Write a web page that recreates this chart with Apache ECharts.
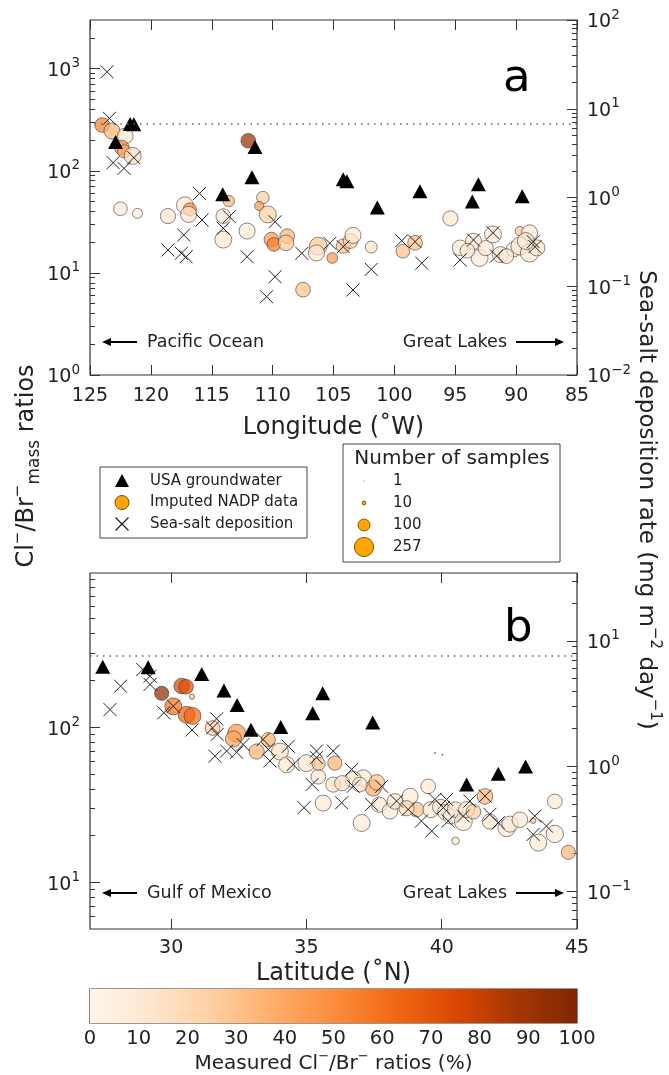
<!DOCTYPE html>
<html><head><meta charset="utf-8">
<script src="https://cdn.jsdelivr.net/npm/echarts@6/dist/echarts.min.js"></script>
<style>html,body{margin:0;padding:0;background:#fff}#c{width:669px;height:1075px}</style>
</head><body><div id="c"></div>
<script>
// ---------- DATA ----------
// Panel a: longitude (deg W)
const triA_lon = [122.9,121.7,121.4,111.45,111.7,114.1,104.2,103.9,101.4,97.9,93.1,93.6,89.5];
const triA_val = [191,287,285,171,86.5,59,82.6,79,43.7,63,73.8,50,56.3];
// circles: [lon, Cl/Br ratio, number of samples, measured %]
const circA_lon = [124.0,123.2,122.1,122.4,122.2,121.5,112.0,122.5,121.1,118.6,117.2,116.8,116.9,114.05,114.05,113.6,112.1,110.8,111.1,110.4,110.1,109.9,108.8,108.9,107.5,106.25,106.4,105.1,104.2,103.6,103.4,101.9,99.3,98.3,95.4,94.6,93.5,93.0,91.9,91.3,90.2,89.7,89.7,88.9,88.9,88.3,90.8,94.0,92.5,89.2];
const circA_val = [281,246,220,169,155,140,197,42.5,38.3,36,45.9,41.9,37.4,36,21.2,50.6,25.7,54.6,45.2,37.4,21.2,19,22.9,19.7,6.85,18.3,15.7,14,18.3,20.5,23.3,17.9,16.3,19.7,34.2,17.6,20.4,14,23.8,15.1,17,25.7,18.3,24.7,15.7,17.6,14.6,16.5,17.5,20.5];
const circA_n   = [150,180,170,150,120,200,150,130,70,160,200,120,180,150,200,90,180,110,60,200,150,130,150,170,150,220,180,80,140,150,180,100,130,150,160,170,180,200,200,180,160,60,220,180,230,180,150,150,160,200];
const circA_pct = [55,35,12,48,40,15,92,10,8,12,10,50,12,10,8,35,8,25,45,25,45,55,35,28,30,28,12,45,30,25,10,15,30,30,12,10,10,8,8,10,12,30,10,8,10,12,10,12,10,12];
// sea-salt deposition (mg m-2 day-1)
const crossA_lon = [123.6,123.4,123.1,122.2,121.4,116.0,115.8,118.6,117.3,117.5,117.1,114.05,113.55,112.1,109.8,109.8,110.5,107.6,105.3,104.2,103.4,101.9,99.4,98.3,97.75,94.6,93.5,91.9,91.6,88.6,88.45];
const crossA_dep = [26.1,7.8,2.47,2.13,2.81,1.11,0.557,0.256,0.378,0.235,0.215,0.45,0.608,0.215,0.533,0.128,0.0762,0.235,0.305,0.279,0.0908,0.155,0.326,0.318,0.182,0.198,0.332,0.401,0.219,0.318,0.279];

// Panel b: latitude (deg N)
const triB_lat = [27.47,29.15,31.13,31.95,32.44,32.95,34.05,35.23,35.6,37.45,40.92,42.09,43.1];
const triB_val = [245,243,220,172,139,96,100,123,165,107,42.6,50,55.7];
const circB_lat = [29.65,30.39,30.55,30.77,30.08,30.57,30.79,31.53,32.42,32.3,33.59,33.16,34.02,34.27,35.0,35.44,36.05,35.99,35.62,37.04,37.1,36.73,37.47,37.6,36.32,36.97,37.69,38.09,38.27,38.83,39.07,38.7,39.5,39.6,39.95,40.13,40.32,40.5,40.8,40.92,41.17,40.51,41.6,41.78,42.4,42.52,42.89,43.38,43.57,44.18,44.18,44.68,39.75,40.03,35.45];
const circB_val = [165,184,182,157,136,120,118,98.6,91.4,84,83,69.6,69.6,57.2,58.6,47.9,58.6,42.6,32.4,24.1,46.8,46,40.5,44,43.5,42.6,31.6,28.7,33.2,35.8,29.4,30,41.5,29.4,30.5,28.3,26.5,29.4,24.6,29.4,28.5,18.5,35.8,24.6,22.4,23.7,25.3,24.9,18,33.2,20.5,15.6,68,66.4,58];
const circB_n   = [140,170,150,20,200,200,200,150,220,180,140,160,200,180,200,150,140,160,180,200,200,180,180,170,160,150,160,170,170,180,150,160,150,180,170,160,150,170,220,180,150,40,170,160,210,180,170,20,200,150,210,140,1,1,120];
const circB_pct = [95,75,72,30,60,65,62,25,45,42,38,35,15,12,12,8,35,15,10,8,10,12,38,30,15,10,10,10,12,10,30,18,10,10,12,10,8,10,8,10,25,10,35,12,8,10,10,30,10,10,8,35,50,50,30];
const crossB_lat = [27.74,28.13,28.95,29.22,29.22,29.73,30.08,30.77,31.68,31.53,31.62,32.05,32.42,32.66,31.7,33.4,33.59,33.65,34.33,34.51,35.37,35.99,35.37,35.21,34.91,36.3,36.67,36.73,37.41,37.78,38.33,38.76,39.25,39.63,39.75,40.06,40.18,40.24,40.8,41.04,41.6,41.78,42.09,43.44,43.38,43.87];
const crossB_dep = [2.83,4.35,5.91,5.23,4.49,2.67,3.01,1.94,2.39,2.02,1.2,1.32,1.29,1.49,1.79,1.63,1.36,1.1,1.44,1.03,1.32,1.32,1.17,0.714,0.466,0.51,0.94,0.69,0.494,0.69,0.526,0.451,0.364,0.303,0.542,0.466,0.542,0.364,0.399,0.526,0.576,0.412,0.353,0.399,0.285,0.332];

const seawaterRatio = 288;
const latTicks = [30,35,40,45];
const cbTicks = [0,10,20,30,40,50,60,70,80,90,100];
const legendNames = ['USA groundwater','Imputed NADP data','Sea-salt deposition'];
const legendCounts = [1,10,100,257];
const orangesCmap = ['#fff5eb','#fee6ce','#fdd0a2','#fdae6b','#fd8d3c','#f16913','#d94801','#a63603','#7f2704'];

// ---------- HELPERS ----------
const FONT = 'DejaVu Sans';
const INK = '#222';
function zip2(a,b){return a.map((v,i)=>[v,b[i]]);}
function zip4(a,b,c,d){return a.map((v,i)=>[v,b[i],c[i],d[i]]);}
function sizeOf(n){return 1.2*Math.sqrt(n);}
function decades(lo,hi){const r=[];for(let e=lo;e<=hi;e++)r.push(Math.pow(10,e));return r;}
function minors(lo,hi,min,max){const r=[];for(let e=lo;e<=hi;e++){for(let k=2;k<=9;k++){const v=k*Math.pow(10,e);if(v>min&&v<max)r.push(+v.toPrecision(3));}}return r;}
function powLabel(v){const e=Math.round(Math.log10(v));return '{b|10}{s|'+(e<0?'\u2212'+(-e):e)+'}';}
const powRich = {b:{fontSize:19,fontFamily:FONT,color:INK,lineHeight:24,verticalAlign:'bottom'},s:{fontSize:13.5,fontFamily:FONT,color:INK,lineHeight:24,verticalAlign:'top'}};

const GA = {left:90, top:20, width:487, height:355};
const GB = {left:90, top:573, width:487, height:356};
const GC = {left:90, top:989, width:487, height:34};

function logAxis(grid, pos, min, max, majors, minorVals){
  return [
    {type:'log', gridIndex:grid, position:pos, min:min, max:max, offset:0,
     axisLine:{show:false}, splitLine:{show:false}, minorTick:{show:false},
     axisTick:{show:true, inside:true, length:10, customValues:majors, lineStyle:{color:'#333',width:1}},
     axisLabel:{show:true, customValues:majors, margin:10, formatter:powLabel, rich:powRich}},
    {type:'log', gridIndex:grid, position:pos, min:min, max:max, offset:0,
     axisLine:{show:false}, splitLine:{show:false}, axisLabel:{show:false},
     axisTick:{show:true, inside:true, length:5, customValues:minorVals, lineStyle:{color:'#333',width:1}}}
  ];
}

const circleStyle = {opacity:0.72, borderColor:'#333', borderWidth:0.8};
const crossSymbol = 'path://M0,0L10,10M10,0L0,10';
const triSymbol = 'path://M5,0L10,9L0,9Z';
const crossStyle = {color:'rgba(0,0,0,0)', borderColor:INK, borderWidth:1, opacity:1};
const triStyle = {color:'#000', opacity:1};
const dotted = {silent:true, symbol:'none', label:{show:false}, animation:false,
  lineStyle:{type:[1.5,5], color:'#666', width:1.5}, data:[{yAxis:seawaterRatio}]};

function arrow(x1,x2,y){ // x1 tail, x2 tip
  const dir = x2>x1?1:-1;
  return {type:'group', children:[
    {type:'line', shape:{x1:x1,y1:y,x2:x2-dir*6,y2:y}, style:{stroke:'#000',lineWidth:2}},
    {type:'polygon', shape:{points:[[x2,y],[x2-dir*9,y-4],[x2-dir*9,y+4]]}, style:{fill:'#000'}}
  ]};
}
const annot = {fontSize:17.5, fill:INK, fontFamily:FONT, verticalAlign:'middle'};

// legend 1 (marker key), drawn as graphic
const L1 = {x:100, y:467, w:207, h:71, mx:122, tx:150, rows:[481,502.5,524]};
const legend1 = [
  {type:'rect', z:10, shape:{x:L1.x, y:L1.y, width:L1.w, height:L1.h}, style:{fill:'#fff', stroke:'#444', lineWidth:1}},
  {type:'polygon', z:11, shape:{points:[[L1.mx,L1.rows[0]-7],[L1.mx+7,L1.rows[0]+6],[L1.mx-7,L1.rows[0]+6]]}, style:{fill:'#000'}},
  {type:'circle', z:11, shape:{cx:L1.mx, cy:L1.rows[1], r:7}, style:{fill:'#ffa500', stroke:'#7a4a00', lineWidth:1}},
  {type:'line', z:11, shape:{x1:L1.mx-6.5,y1:L1.rows[2]-6.5,x2:L1.mx+6.5,y2:L1.rows[2]+6.5}, style:{stroke:INK, lineWidth:1.2}},
  {type:'line', z:11, shape:{x1:L1.mx-6.5,y1:L1.rows[2]+6.5,x2:L1.mx+6.5,y2:L1.rows[2]-6.5}, style:{stroke:INK, lineWidth:1.2}}
].concat(legendNames.map((t,i)=>({type:'text', z:11, x:L1.tx, y:L1.rows[i],
   style:{text:t, fontSize:15, fill:INK, fontFamily:FONT, verticalAlign:'middle'}})));

const chart = echarts.init(document.getElementById('c'), null, {renderer:'canvas'});
const option = {
  animation:false,
  backgroundColor:'#fff',
  textStyle:{fontFamily:FONT},
  grid:[
    Object.assign({show:true, borderColor:'#333', borderWidth:1.2, backgroundColor:'transparent'},GA),
    Object.assign({show:true, borderColor:'#333', borderWidth:1.2, backgroundColor:'transparent'},GB),
    Object.assign({show:true, borderColor:'#333', borderWidth:1.2, backgroundColor:'transparent'},GC)
  ],
  xAxis:[
    {type:'value', gridIndex:0, position:'bottom', min:85, max:125, interval:5, inverse:true,
     axisLine:{show:false}, splitLine:{show:false},
     axisTick:{inside:true, length:10, lineStyle:{color:'#333'}},
     axisLabel:{fontSize:19, color:INK, margin:12, fontFamily:FONT},
     name:'Longitude (\u02DAW)', nameLocation:'middle', nameGap:41,
     nameTextStyle:{fontSize:24, color:INK, fontFamily:FONT}},
    {type:'value', gridIndex:0, position:'top', min:85, max:125, interval:5, inverse:true,
     axisLine:{show:false}, splitLine:{show:false}, axisLabel:{show:false},
     axisTick:{inside:true, length:10, lineStyle:{color:'#333'}}},
    {type:'value', gridIndex:1, position:'bottom', min:27, max:45,
     axisLine:{show:false}, splitLine:{show:false},
     axisTick:{inside:true, length:10, customValues:latTicks, lineStyle:{color:'#333'}},
     axisLabel:{fontSize:19, color:INK, margin:10, customValues:latTicks, fontFamily:FONT},
     name:'Latitude (\u02DAN)', nameLocation:'middle', nameGap:33,
     nameTextStyle:{fontSize:24, color:INK, fontFamily:FONT}},
    {type:'value', gridIndex:1, position:'top', min:27, max:45,
     axisLine:{show:false}, splitLine:{show:false}, axisLabel:{show:false},
     axisTick:{inside:true, length:10, customValues:latTicks, lineStyle:{color:'#333'}}},
    {type:'value', gridIndex:2, position:'bottom', min:0, max:100, interval:10,
     axisLine:{show:false}, splitLine:{show:false},
     axisTick:{inside:true, length:9, customValues:cbTicks.slice(1,-1), lineStyle:{color:'#333'}},
     axisLabel:{fontSize:19.5, color:INK, margin:6, customValues:cbTicks, fontFamily:FONT},
     name:'{n|Measured Cl}{p|\u2212}{n|/Br}{p|\u2212}{n| ratios (%)}', nameLocation:'middle', nameGap:27,
     nameTextStyle:{rich:{n:{fontSize:20,color:INK,fontFamily:FONT,lineHeight:24,verticalAlign:'bottom'},p:{fontSize:13,color:INK,fontFamily:FONT,lineHeight:24,verticalAlign:'top'}}}}
  ],
  yAxis:[].concat(
    logAxis(0,'left',1,3000,decades(0,3),minors(0,3,1,3000)),
    logAxis(0,'right',0.01,100,decades(-2,2),minors(-2,1,0.01,100)),
    logAxis(1,'left',5,984,decades(1,2),minors(0,2,5,984)),
    logAxis(1,'right',0.05,34.9,decades(-1,1),minors(-2,1,0.05,34.9)),
    [{type:'value', gridIndex:2, min:0, max:1, show:false}]
  ),
  visualMap:[{type:'continuous', show:false, min:0, max:100, dimension:3, seriesIndex:[0,3],
    inRange:{color:orangesCmap}}],
  series:[
    {name:'Imputed NADP data', type:'scatter', xAxisIndex:0, yAxisIndex:0, z:2,
     data:zip4(circA_lon,circA_val,circA_n,circA_pct), symbol:'circle',
     symbolSize:d=>sizeOf(d[2]), itemStyle:circleStyle},
    {name:'Sea-salt deposition', type:'scatter', xAxisIndex:0, yAxisIndex:2, z:3,
     data:zip2(crossA_lon,crossA_dep), symbol:crossSymbol, symbolSize:13, itemStyle:crossStyle},
    {name:'USA groundwater', type:'scatter', xAxisIndex:0, yAxisIndex:0, z:4,
     data:zip2(triA_lon,triA_val), symbol:triSymbol, symbolSize:[15,14], itemStyle:triStyle,
     markLine:dotted},
    {name:'Imputed NADP data', type:'scatter', xAxisIndex:2, yAxisIndex:4, z:2,
     data:zip4(circB_lat,circB_val,circB_n,circB_pct), symbol:'circle',
     symbolSize:d=>sizeOf(d[2]), itemStyle:circleStyle},
    {name:'Sea-salt deposition', type:'scatter', xAxisIndex:2, yAxisIndex:6, z:3,
     data:zip2(crossB_lat,crossB_dep), symbol:crossSymbol, symbolSize:13, itemStyle:crossStyle},
    {name:'USA groundwater', type:'scatter', xAxisIndex:2, yAxisIndex:4, z:4,
     data:zip2(triB_lat,triB_val), symbol:triSymbol, symbolSize:[15,14], itemStyle:triStyle,
     markLine:dotted},
    {name:'colorbar', type:'custom', xAxisIndex:4, yAxisIndex:8, z:1, silent:true,
     data:[[0,100]],
     renderItem:function(params, api){
       const p0 = api.coord([api.value(0),1]);
       const p1 = api.coord([api.value(1),0]);
       return {type:'rect', shape:{x:p0[0], y:p0[1], width:p1[0]-p0[0], height:p1[1]-p0[1]},
         style:{fill:new echarts.graphic.LinearGradient(0,0,1,0,
           orangesCmap.map((c,i)=>({offset:i/(orangesCmap.length-1), color:c})))}};
     }}
  ],
  graphic:[
    {type:'text', left:503, top:57, style:{text:'a', fontSize:45, fill:'#000', fontFamily:FONT}},
    {type:'text', left:504, top:607, style:{text:'b', fontSize:45, fill:'#000', fontFamily:FONT}},
    // annotations
    arrow(137,102,342),
    {type:'text', x:147, y:342, style:Object.assign({text:'Pacific Ocean'},annot)},
    {type:'text', x:507, y:342, style:Object.assign({text:'Great Lakes', align:'right'},annot)},
    arrow(516,564,342),
    arrow(137,102,893),
    {type:'text', x:147, y:893, style:Object.assign({text:'Gulf of Mexico'},annot)},
    {type:'text', x:507, y:893, style:Object.assign({text:'Great Lakes', align:'right'},annot)},
    arrow(516,564,893),
    // axis titles
    {type:'text', x:27, y:466, rotation:Math.PI/2,
     style:{text:'{n|Cl}{p|\u2212}{n|/Br}{p|\u2212}{sub|mass}{n| ratios}', align:'center', verticalAlign:'middle',
       rich:{n:{fontSize:24,fill:INK,fontFamily:FONT,lineHeight:32,verticalAlign:'middle'},
             p:{fontSize:15,fill:INK,fontFamily:FONT,lineHeight:32,verticalAlign:'top'},
             sub:{fontSize:17,fill:INK,fontFamily:FONT,lineHeight:32,verticalAlign:'bottom'}}}},
    {type:'text', x:646, y:500, rotation:-Math.PI/2,
     style:{text:'{n|Sea-salt deposition rate (mg m}{p|\u22122}{n| day}{p|\u22121}{n|)}', align:'center', verticalAlign:'middle',
       rich:{n:{fontSize:23,fill:INK,fontFamily:FONT,lineHeight:32,verticalAlign:'middle'},
             p:{fontSize:15,fill:INK,fontFamily:FONT,lineHeight:32,verticalAlign:'top'}}}},
    // number of samples legend
    {type:'rect', shape:{x:343, y:444, width:217, height:118}, style:{fill:'#fff', stroke:'#444', lineWidth:1}, z:10},
    {type:'text', x:452, y:459, z:11, style:{text:'Number of samples', fontSize:20, fill:INK, fontFamily:FONT, align:'center', verticalAlign:'middle'}}
  ].concat(legendCounts.map((n,i)=>({type:'circle', z:11, shape:{cx:364, cy:481+22*i, r:sizeOf(n)/2},
      style:{fill:'#ffa500', stroke:'#7a4a00', lineWidth:n<5?0.3:0.9, opacity:n<5?0.6:1}})))
   .concat(legendCounts.map((n,i)=>({type:'text', z:11, x:393, y:481+22*i,
      style:{text:String(n), fontSize:15, fill:INK, fontFamily:FONT, verticalAlign:'middle'}})))
   .concat(legend1)
};
chart.setOption(option);
</script></body></html>
